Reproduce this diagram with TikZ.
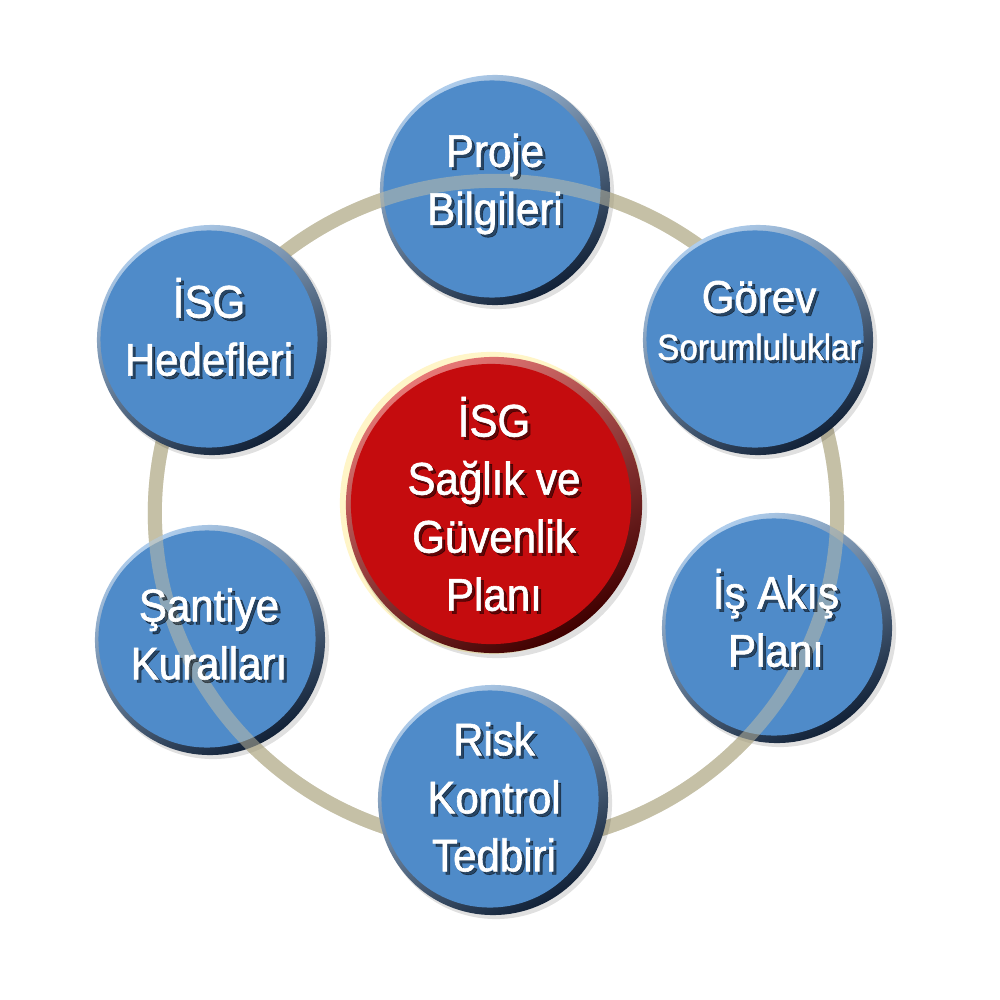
\documentclass[tikz,border=0pt]{standalone}
\usepackage{fontspec}
\setmainfont{Liberation Sans}[FakeStretch=0.92, FakeBold=1.3]
\usetikzlibrary{backgrounds}
\definecolor{ringtan}{RGB}{197,192,166}
\definecolor{bubbleblue}{RGB}{79,139,201}
\definecolor{bubblerim}{RGB}{18,34,56}
\definecolor{bubblelight}{RGB}{175,205,236}
\definecolor{corered}{RGB}{197,12,14}
\definecolor{corerim}{RGB}{64,0,0}
\definecolor{corelight}{RGB}{230,120,118}
\definecolor{coreglow}{RGB}{255,245,200}
\tikzset{
    ring/.style = {draw=ringtan, line width=0.14cm},
    bubbletext/.style = {text=white, align=center,
        font=\fontsize{13}{16.5}\selectfont},
    textshadow/.style = {bubbletext, text=black, opacity=0.5},
    dropshadow/.style = {fill=black, opacity=0.12},
    bluerim/.style = {top color=bubblelight, bottom color=bubblerim,
        shading angle=30},
    blueface/.style = {fill=bubbleblue},
    redrim/.style = {top color=corelight, bottom color=corerim,
        shading angle=30},
    redface/.style = {fill=corered}
}
\newcommand{\bluedisc}[1]{%
    \fill[dropshadow] ([shift={(3,3)}]#1) circle (1.16cm);
    \shade[bluerim] (#1) circle (1.15cm);
    \fill[blueface] ([shift={(-3,-1)}]#1) circle (1.085cm);
}
\begin{document}
\begin{tikzpicture}[x=0.01cm,y=-0.01cm]
    \useasboundingbox (0,0) rectangle (1000,1000);
    % centres of the discs
    \coordinate (proje) at (495,190);
    \coordinate (gorev) at (758,340);
    \coordinate (isakis) at (777,628);
    \coordinate (risk) at (493,800);
    \coordinate (santiye) at (210,640);
    \coordinate (hedef) at (212,340);
    \coordinate (core) at (494,505);
    \coordinate (ringc) at (496,513);

    \begin{scope}[on background layer]
        \fill[white] (0,0) rectangle (1000,1000);
        \draw[ring] (ringc) ellipse [x radius=3.41cm, y radius=3.32cm];
        \bluedisc{proje}
        \bluedisc{santiye}
        \bluedisc{isakis}
        % ring shows through these three
        \draw[ring, opacity=0.5] (ringc) ellipse [x radius=3.41cm, y radius=3.32cm];
        \bluedisc{gorev}
        \bluedisc{hedef}
        \bluedisc{risk}
        % red centre
        \fill[coreglow] ([shift={(-3,-2)}]core) circle (1.51cm);
        \fill[dropshadow] ([shift={(3,3)}]core) circle (1.50cm);
        \shade[redrim] (core) circle (1.48cm);
        \fill[redface] ([shift={(-3,-1)}]core) circle (1.40cm);
    \end{scope}

    % text shadows
    \node[textshadow] (projeS) at (498,187) {Proje\\Bilgileri};
    \node[textshadow, font=\fontsize{13}{13.4}\selectfont] (gorevS) at (762,323.5) {Görev\\{\fontsize{10.3}{13.4}\selectfont Sorumluluklar}};
    \node[textshadow] (isakisS) at (779,621) {İş Akış\\Planı};
    \node[textshadow] (riskS) at (497,800) {Risk\\Kontrol\\Tedbiri};
    \node[textshadow] (santiyeS) at (212,637) {Şantiye\\Kuralları};
    \node[textshadow] (hedefS) at (212,330) {İSG\\Hedefleri};
    \node[textshadow] (coreS) at (497,507) {İSG\\Sağlık ve\\Güvenlik\\Planı};

    \node[bubbletext] (projeT) at (495,184) {Proje\\Bilgileri};
    \node[bubbletext, font=\fontsize{13}{13.4}\selectfont] (gorevT) at (759,320.5) {Görev\\{\fontsize{10.3}{13.4}\selectfont Sorumluluklar}};
    \node[bubbletext] (isakisT) at (776,618) {İş Akış\\Planı};
    \node[bubbletext] (riskT) at (494,797) {Risk\\Kontrol\\Tedbiri};
    \node[bubbletext] (santiyeT) at (209,634) {Şantiye\\Kuralları};
    \node[bubbletext] (hedefT) at (209,327) {İSG\\Hedefleri};
    \node[bubbletext] (coreT) at (494,504) {İSG\\Sağlık ve\\Güvenlik\\Planı};
\end{tikzpicture}
\end{document}
